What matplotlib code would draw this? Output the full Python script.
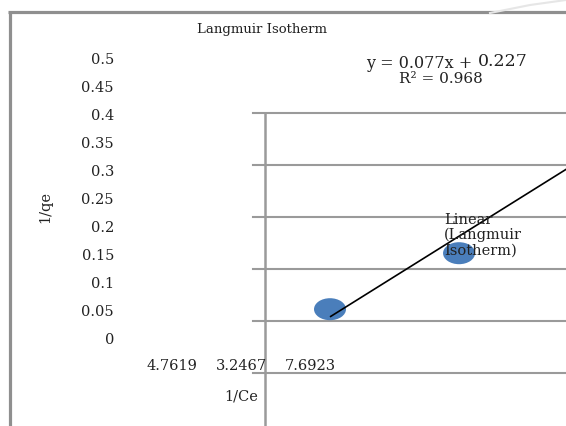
import matplotlib
matplotlib.use('Agg')
import matplotlib.pyplot as plt
from matplotlib.patches import Ellipse

# chart data (category axis units)
x_labels = ['4.7619', '3.2467', '7.6923']
y_ticks = [0, 0.05, 0.1, 0.15, 0.2, 0.25, 0.3, 0.35, 0.4, 0.45, 0.5]
point_x = [3.29, 5.16]
point_y = [0.055, 0.155]
trend_slope = 0.077
trend_intercept = -0.212
trend_x = [3.30, 7.0]

W, H = 566, 426
fig = plt.figure(figsize=(W / 100, H / 100), dpi=100)
fig.patch.set_facecolor('white')

# page decoration in pixel units (border + table grid behind the chart)
deco = fig.add_axes([0, 0, 1, 1])
deco.set_xlim(0, W)
deco.set_ylim(H, 0)
deco.axis('off')
gray = '#9a9a9a'
deco.plot([9.5, 9.5], [12, H], color='#8f8f8f', lw=2.3, solid_capstyle='butt')
deco.plot([8, W], [12, 12], color='#8f8f8f', lw=2.3, solid_capstyle='butt')
deco.plot([490, 530, 566], [13, 5, 0], color='#e6e6e6', lw=1.5)
for yy in [113, 165, 217, 269, 321, 373]:
    deco.plot([253, W], [yy, yy], color=gray, lw=1.5)
deco.plot([265, 265], [113, H], color=gray, lw=1.8)

# chart axes
ax = fig.add_axes([0, 0, 1, 1], facecolor='none')
ax.set_xlim(1 - 172 / 69, 1 + (W - 172) / 69)
ax.set_ylim((340 - H) / 560, 340 / 560)
ax.axis('off')

font = 'DejaVu Serif'
ytr = ax.get_yaxis_transform()
for v in y_ticks:
    ax.text(114 / W, v, f'{v:g}', transform=ytr, ha='right', va='center',
            family=font, fontsize=10.5, color='#222222')

xtr = ax.get_xaxis_transform()
for i, lab in enumerate(x_labels):
    ax.text(i + 1, (H - 366) / H, lab, transform=xtr, ha='center', va='center',
            family=font, fontsize=10.5, color='#222222')

for x, y in zip(point_x, point_y):
    ax.add_patch(Ellipse((x, y), 32 / 69, 22 / 560, facecolor='#4a7ebb',
                         edgecolor='none', zorder=3))

ax.plot(trend_x, [trend_slope * x + trend_intercept for x in trend_x],
        color='black', lw=1.2, zorder=4)

fig.text(262 / W, 1 - 29 / H, 'Langmuir Isotherm', ha='center', va='center',
         family=font, fontsize=9.5, color='#222222')
fig.text(477 / W, 1 - 63 / H, 'y = 0.077x + ', ha='right', va='center',
         family=font, fontsize=11.5, color='#222222')
fig.text(478 / W, 1 - 62 / H, '0.227', ha='left', va='center',
         family=font, fontsize=12.5, color='#222222')
fig.text(441 / W, 1 - 79 / H, 'R² = 0.968', ha='center', va='center',
         family=font, fontsize=11, color='#222222')
fig.text(45 / W, 1 - 207 / H, '1/qe', ha='center', va='center', rotation=90,
         family=font, fontsize=10.5, color='#222222')
fig.text(241 / W, 1 - 396 / H, '1/Ce', ha='center', va='center',
         family=font, fontsize=10.5, color='#222222')
fig.text(444 / W, 1 - 235 / H, 'Linear\n(Langmuir\nIsotherm)', ha='left',
         va='center', family=font, fontsize=10.5, color='#222222',
         linespacing=1.1, zorder=5)

fig.savefig('out.png', dpi=100)
